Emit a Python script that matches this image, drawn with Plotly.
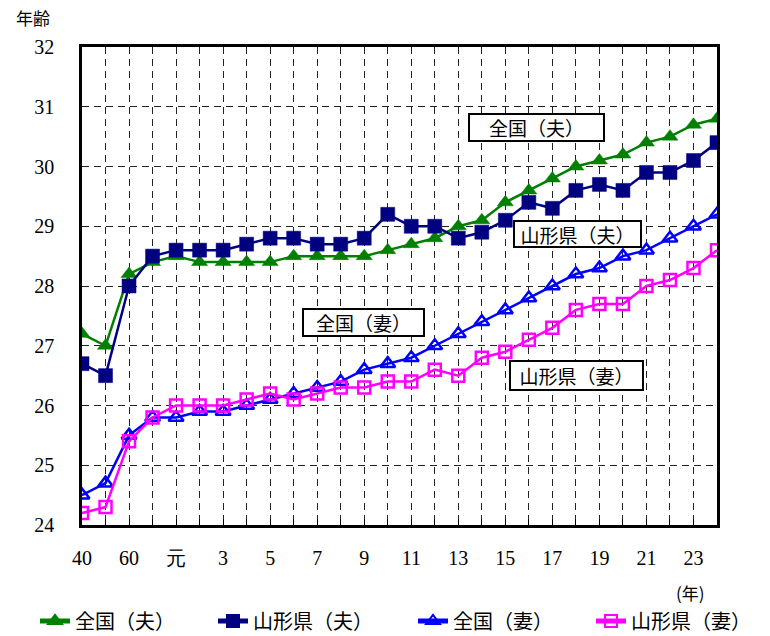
import plotly.graph_objects as go

categories = ["40", "50", "60", "63", "元", "2", "3", "4", "5", "6", "7", "8", "9", "10",
              "11", "12", "13", "14", "15", "16", "17", "18", "19", "20", "21", "22", "23", "24"]
zenkoku_otto = [27.2, 27.0, 28.2, 28.4, 28.5, 28.4, 28.4, 28.4, 28.4, 28.5, 28.5, 28.5, 28.5, 28.6,
                28.7, 28.8, 29.0, 29.1, 29.4, 29.6, 29.8, 30.0, 30.1, 30.2, 30.4, 30.5, 30.7, 30.8]
yamagata_otto = [26.7, 26.5, 28.0, 28.5, 28.6, 28.6, 28.6, 28.7, 28.8, 28.8, 28.7, 28.7, 28.8, 29.2,
                 29.0, 29.0, 28.8, 28.9, 29.1, 29.4, 29.3, 29.6, 29.7, 29.6, 29.9, 29.9, 30.1, 30.4]
zenkoku_tsuma = [24.5, 24.7, 25.5, 25.8, 25.8, 25.9, 25.9, 26.0, 26.1, 26.2, 26.3, 26.4, 26.6, 26.7,
                 26.8, 27.0, 27.2, 27.4, 27.6, 27.8, 28.0, 28.2, 28.3, 28.5, 28.6, 28.8, 29.0, 29.2]
yamagata_tsuma = [24.2, 24.3, 25.4, 25.8, 26.0, 26.0, 26.0, 26.1, 26.2, 26.1, 26.2, 26.3, 26.3, 26.4,
                  26.4, 26.6, 26.5, 26.8, 26.9, 27.1, 27.3, 27.6, 27.7, 27.7, 28.0, 28.1, 28.3, 28.6]
series_names = ["全国（夫）", "山形県（夫）", "全国（妻）", "山形県（妻）"]
tick_text = [c if i % 2 == 0 else "" for i, c in enumerate(categories)]

# plot area in pixels
L, R, T, B = 82, 717, 47, 525
W, H = 770, 636


def px(x):
    return (x - L) / (R - L)


def py(y):
    return (B - y) / (B - T)


CJK = "Noto Sans CJK JP"
SERIF = "Liberation Serif"

fig = go.Figure()
styles = [
    dict(color="#008000", symbol="triangle-up", size=14, fill=True),
    dict(color="#000080", symbol="square", size=14, fill=True),
    dict(color="#0000FF", symbol="triangle-up-open", size=13, fill=False),
    dict(color="#FF00FF", symbol="square-open", size=12, fill=False),
]
legend_ids = ["legend", "legend2", "legend3", "legend4"]
for name, vals, st, lg in zip(series_names, [zenkoku_otto, yamagata_otto, zenkoku_tsuma, yamagata_tsuma],
                              styles, legend_ids):
    fig.add_trace(go.Scatter(
        x=categories, y=vals, name=name, mode="lines+markers", legend=lg,
        line=dict(color=st["color"], width=2.5),
        marker=dict(symbol=st["symbol"], size=st["size"], color=st["color"],
                    line=dict(color=st["color"], width=2.5 if not st["fill"] else 0.5)),
    ))

grid = dict(showgrid=True, gridcolor="#222", gridwidth=1, griddash="7px,5px")
fig.update_xaxes(
    type="category", categoryorder="array", categoryarray=categories,
    range=[0, len(categories) - 1], automargin=False,
    tickmode="array", tickvals=categories, ticktext=tick_text,
    ticks="inside", ticklen=6, tickcolor="black", tickwidth=1,
    showline=True, linecolor="black", linewidth=2.5, mirror=True,
    tickfont=dict(family=SERIF, size=20, color="black"),
    ticklabelstandoff=13, zeroline=False, **grid,
)
fig.update_yaxes(
    range=[24, 32], dtick=1, tick0=24, ticks="", automargin=False,
    showline=True, linecolor="black", linewidth=2.5, mirror=True,
    tickfont=dict(family=SERIF, size=20, color="black"),
    ticklabelstandoff=21, zeroline=False, **grid,
)

annotations = [
    dict(text="年齢", x=px(33), y=py(17), font=dict(family=CJK, size=17, color="black")),
    dict(text="(年)", x=px(690), y=py(592), font=dict(family=CJK, size=17, color="black")),
]
for a in annotations:
    a.update(xref="paper", yref="paper", showarrow=False, xanchor="center", yanchor="middle")

boxes = [
    ("全国（夫）", 536, 128, 133, 25),
    ("山形県（夫）", 577, 234, 125, 24),
    ("全国（妻）", 363, 322, 119, 25),
    ("山形県（妻）", 576, 375, 131, 27),
]
for txt, cx, cy, w, h in boxes:
    annotations.append(dict(
        text=txt, x=px(cx), y=py(cy), xref="paper", yref="paper",
        xanchor="center", yanchor="middle",
        showarrow=False, font=dict(family=CJK, size=19, color="black"),
        bgcolor="white", bordercolor="black", borderwidth=2, borderpad=0,
        width=w, height=h,
    ))

legend_text_x = [77, 255, 455, 633]
legend_common = dict(orientation="h", yanchor="middle", xanchor="left",
                     font=dict(family=CJK, size=20, color="black"),
                     bgcolor="rgba(0,0,0,0)", itemsizing="constant")
legends = {}
for lg, tx in zip(legend_ids, legend_text_x):
    legends[lg] = dict(legend_common, x=px(tx - 42), y=py(621))

fig.update_layout(
    width=W, height=H,
    margin=dict(l=L, r=W - R, t=T, b=H - B, autoexpand=False),
    paper_bgcolor="white", plot_bgcolor="white",
    annotations=annotations,
    showlegend=True,
    **legends,
)

fig.write_html("out.html", config={"displayModeBar": False},
               post_script="document.body.style.margin='0';document.body.style.overflow='hidden';")
